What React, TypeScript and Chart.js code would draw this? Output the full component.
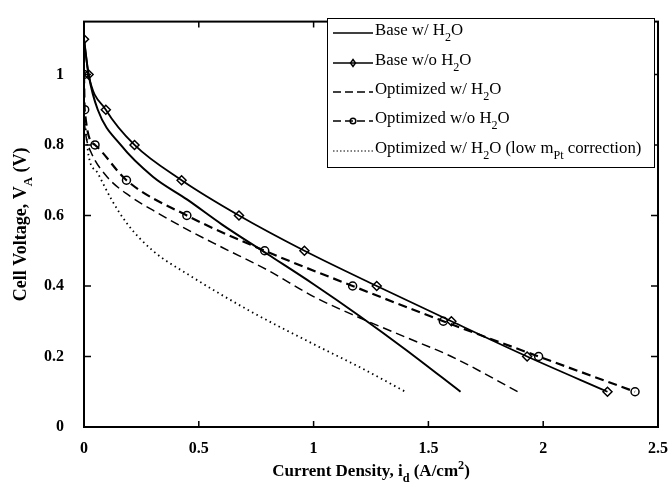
import React, { useEffect, useRef } from "react";
import Chart from "chart.js/auto";

// ---- data ----
const xTicks = [0, 0.5, 1, 1.5, 2, 2.5];
const yTicks = [0, 0.2, 0.4, 0.6, 0.8, 1];

const baseWithX = [0, 0.02, 0.06, 0.16, 0.3, 0.45, 0.6, 0.8, 1.0, 1.2, 1.4, 1.64];
const baseWithY = [1.1, 1.0, 0.9, 0.8, 0.71, 0.645, 0.575, 0.49, 0.405, 0.315, 0.22, 0.1];

const baseWoX = [0, 0.02, 0.095, 0.22, 0.425, 0.675, 0.96, 1.275, 1.6, 1.93, 2.28];
const baseWoY = [1.1, 1.0, 0.9, 0.8, 0.7, 0.6, 0.5, 0.4, 0.3, 0.2, 0.1];

const optWithX = [0, 0.01, 0.03, 0.1, 0.2, 0.3, 0.45, 0.6, 0.8, 1.0, 1.2, 1.4, 1.6, 1.89];
const optWithY = [0.87, 0.82, 0.78, 0.71, 0.655, 0.615, 0.56, 0.51, 0.445, 0.37, 0.31, 0.255, 0.2, 0.1];

const optWoX = [0, 0.003, 0.048, 0.185, 0.448, 0.787, 1.17, 1.565, 1.98, 2.4];
const optWoY = [1.0, 0.9, 0.8, 0.7, 0.6, 0.5, 0.4, 0.3, 0.2, 0.1];

const lowPtX = [0.005, 0.02, 0.06, 0.12, 0.19, 0.3, 0.46, 0.72, 1.0, 1.2, 1.4];
const lowPtY = [0.86, 0.77, 0.72, 0.645, 0.575, 0.5, 0.43, 0.33, 0.235, 0.17, 0.1];

type Seg = { t: string; sub?: boolean; sup?: boolean };
const legendLabels: Seg[][] = [
  [{ t: "Base w/ H" }, { t: "2", sub: true }, { t: "O" }],
  [{ t: "Base w/o H" }, { t: "2", sub: true }, { t: "O" }],
  [{ t: "Optimized w/ H" }, { t: "2", sub: true }, { t: "O" }],
  [{ t: "Optimized w/o H" }, { t: "2", sub: true }, { t: "O" }],
  [
    { t: "Optimized w/ H" },
    { t: "2", sub: true },
    { t: "O (low m" },
    { t: "Pt", sub: true },
    { t: " correction)" },
  ],
];
const xTitle: Seg[] = [{ t: "Current Density, i" }, { t: "d", sub: true }, { t: " (A/cm" }, { t: "2", sup: true }, { t: ")" }];
const yTitle: Seg[] = [{ t: "Cell Voltage, V" }, { t: "A", sub: true }, { t: " (V)" }];

const SERIF = "'Liberation Serif', 'DejaVu Serif', serif";

const pts = (xs: number[], ys: number[]) => xs.map((x, i) => ({ x, y: ys[i] }));

function segWidth(ctx: CanvasRenderingContext2D, segs: Seg[], size: number, bold: boolean) {
  let w = 0;
  for (const s of segs) {
    const fs = s.sub || s.sup ? size * 0.72 : size;
    ctx.font = `${bold ? "bold " : ""}${fs}px ${SERIF}`;
    w += ctx.measureText(s.t).width;
  }
  return w;
}

function drawSegs(ctx: CanvasRenderingContext2D, segs: Seg[], x: number, y: number, size: number, bold: boolean) {
  ctx.textBaseline = "middle";
  ctx.textAlign = "left";
  let cx = x;
  for (const s of segs) {
    const fs = s.sub || s.sup ? size * 0.72 : size;
    ctx.font = `${bold ? "bold " : ""}${fs}px ${SERIF}`;
    const dy = s.sub ? size * 0.42 : s.sup ? -size * 0.38 : 0;
    ctx.fillText(s.t, cx, y + dy);
    cx += ctx.measureText(s.t).width;
  }
}

const decorPlugin = {
  id: "decor",
  afterDatasetsDraw(chart: any) {
    const ctx: CanvasRenderingContext2D = chart.ctx;
    const { left, right, top, bottom } = chart.chartArea;
    const xs = chart.scales.x;
    const ys = chart.scales.y;
    ctx.save();
    ctx.strokeStyle = "#000";
    ctx.fillStyle = "#000";
    // frame
    ctx.lineWidth = 2;
    ctx.setLineDash([]);
    ctx.strokeRect(left, top, right - left, bottom - top);
    // inner ticks
    ctx.lineWidth = 1.5;
    ctx.beginPath();
    for (const v of xTicks.slice(1, -1)) {
      const px = xs.getPixelForValue(v);
      ctx.moveTo(px, bottom);
      ctx.lineTo(px, bottom - 6);
      ctx.moveTo(px, top);
      ctx.lineTo(px, top + 6);
    }
    for (const v of yTicks.slice(1)) {
      const py = ys.getPixelForValue(v);
      ctx.moveTo(left, py);
      ctx.lineTo(left + 7, py);
      ctx.moveTo(right, py);
      ctx.lineTo(right - 7, py);
    }
    ctx.stroke();

    // legend box
    const lx = 327, ly = 18, lw = 327, lh = 149;
    ctx.fillStyle = "#fff";
    ctx.fillRect(lx, ly, lw, lh);
    ctx.lineWidth = 1;
    ctx.strokeStyle = "#000";
    ctx.strokeRect(lx + 0.5, ly + 0.5, lw, lh);
    ctx.fillStyle = "#000";
    const rows = [30, 60, 89, 118, 148];
    const sx0 = 333, sx1 = 373;
    rows.forEach((ry, i) => {
      ctx.save();
      ctx.strokeStyle = "#000";
      ctx.beginPath();
      if (i === 0) { ctx.lineWidth = 1.5; ctx.setLineDash([]); }
      if (i === 1) { ctx.lineWidth = 1.5; ctx.setLineDash([]); }
      if (i === 2) { ctx.lineWidth = 1.5; ctx.setLineDash([8, 4]); }
      if (i === 3) { ctx.lineWidth = 1.5; ctx.setLineDash([8, 4]); }
      if (i === 4) { ctx.lineWidth = 1; ctx.setLineDash([1.5, 2]); }
      ctx.moveTo(sx0, ry + 3);
      ctx.lineTo(sx1, ry + 3);
      ctx.stroke();
      ctx.setLineDash([]);
      const mx = (sx0 + sx1) / 2;
      if (i === 1) {
        ctx.beginPath();
        ctx.moveTo(mx, ry + 3 - 3.5);
        ctx.lineTo(mx + 2.5, ry + 3);
        ctx.lineTo(mx, ry + 3 + 3.5);
        ctx.lineTo(mx - 2.5, ry + 3);
        ctx.closePath();
        ctx.stroke();
      }
      if (i === 3) {
        ctx.beginPath();
        ctx.arc(mx, ry + 3, 2.8, 0, Math.PI * 2);
        ctx.stroke();
      }
      ctx.restore();
      drawSegs(ctx, legendLabels[i], 375, ry + 1, 16.8, false);
    });

    // axis titles
    const xw = segWidth(ctx, xTitle, 17, true);
    drawSegs(ctx, xTitle, (left + right) / 2 - xw / 2, 472, 17, true);
    ctx.save();
    ctx.translate(21, (top + bottom) / 2);
    ctx.rotate(-Math.PI / 2);
    const yw = segWidth(ctx, yTitle, 18, true);
    drawSegs(ctx, yTitle, -yw / 2, 0, 18, true);
    ctx.restore();
    ctx.restore();
  },
};

export default function App() {
  const ref = useRef<HTMLCanvasElement | null>(null);
  useEffect(() => {
    if (!ref.current) return;
    const tickFont = { family: SERIF, size: 16, weight: "bold" as const };
    const chart = new Chart(ref.current, {
      type: "scatter",
      data: {
        datasets: [
          {
            label: "Base w/ H2O",
            data: pts(baseWithX, baseWithY),
            showLine: true,
            borderColor: "#000",
            borderWidth: 2,
            pointRadius: 0,
            cubicInterpolationMode: "monotone",
          },
          {
            label: "Base w/o H2O",
            data: pts(baseWoX, baseWoY),
            showLine: true,
            borderColor: "#000",
            borderWidth: 1.8,
            pointStyle: "rectRot",
            pointRadius: 4.5,
            pointBorderWidth: 1.5,
            pointBackgroundColor: "rgba(0,0,0,0)",
            pointBorderColor: "#000",
            cubicInterpolationMode: "monotone",
          },
          {
            label: "Optimized w/ H2O",
            data: pts(optWithX, optWithY),
            showLine: true,
            borderColor: "#000",
            borderWidth: 1.5,
            borderDash: [9, 5],
            pointRadius: 0,
            cubicInterpolationMode: "monotone",
          },
          {
            label: "Optimized w/o H2O",
            data: pts(optWoX, optWoY),
            showLine: true,
            borderColor: "#000",
            borderWidth: 2.2,
            borderDash: [9, 5],
            pointStyle: "circle",
            pointRadius: 4,
            pointBorderWidth: 1.5,
            pointBackgroundColor: "rgba(0,0,0,0)",
            pointBorderColor: "#000",
            cubicInterpolationMode: "monotone",
          },
          {
            label: "Optimized w/ H2O (low mPt correction)",
            data: pts(lowPtX, lowPtY),
            showLine: true,
            borderColor: "#000",
            borderWidth: 1.8,
            borderDash: [1.5, 3.5],
            pointRadius: 0,
            cubicInterpolationMode: "monotone",
          },
        ],
      },
      options: {
        responsive: false,
        animation: false,
        devicePixelRatio: 1,
        layout: { padding: { top: 10, right: 13, left: 0, bottom: 0 } },
        plugins: { legend: { display: false }, tooltip: { enabled: false } },
        scales: {
          x: {
            type: "linear",
            min: 0,
            max: 2.5,
            grid: { display: false },
            border: { display: false },
            afterBuildTicks: (s: any) => {
              s.ticks = xTicks.map((v) => ({ value: v }));
            },
            afterFit: (s: any) => {
              s.height = 68;
            },
            ticks: {
              color: "#000",
              font: tickFont,
              padding: 4,
              maxRotation: 0,
              callback: (v: any) => String(v),
            },
          },
          y: {
            type: "linear",
            min: 0,
            max: 1.15,
            grid: { display: false },
            border: { display: false },
            afterBuildTicks: (s: any) => {
              s.ticks = yTicks.map((v) => ({ value: v }));
            },
            afterFit: (s: any) => {
              s.width = 84;
            },
            ticks: {
              color: "#000",
              font: tickFont,
              padding: 12,
              callback: (v: any) => String(v),
            },
          },
        },
      },
      plugins: [decorPlugin],
    } as any);
    return () => chart.destroy();
  }, []);
  return (
    <div style={{ position: "absolute", left: 0, top: 0, width: 672, height: 495, background: "#fff" }}>
      <canvas ref={ref} width={672} height={495} style={{ display: "block" }} />
    </div>
  );
}
